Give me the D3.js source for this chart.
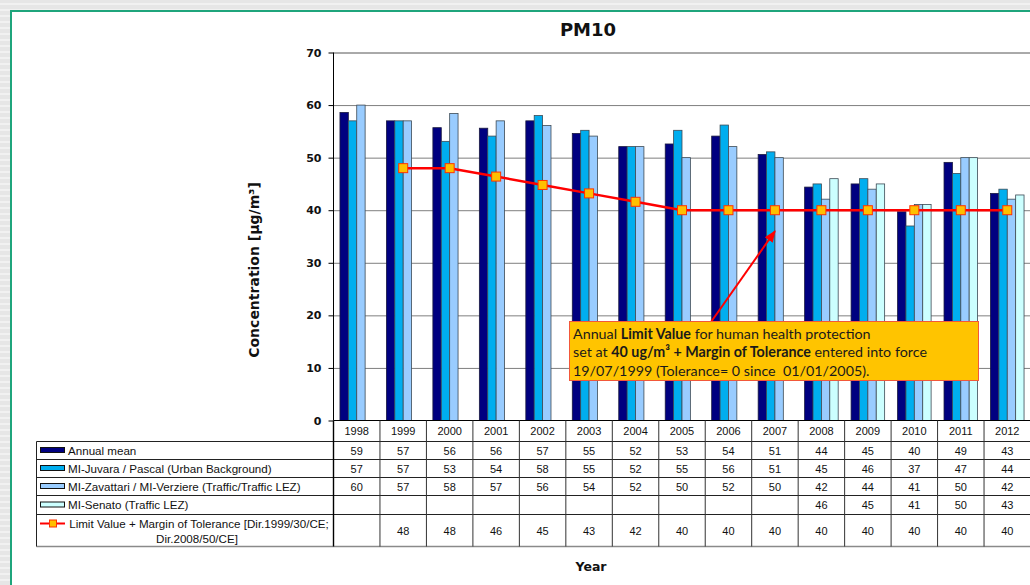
<!DOCTYPE html>
<html>
<head>
<meta charset="utf-8">
<script src="https://cdn.jsdelivr.net/npm/d3@7"></script>
<style>
  html, body { margin: 0; padding: 0; background: #ececec; }
  svg { display: block; }
</style>
</head>
<body>
<svg id="chart" width="1030" height="585"></svg>
<script>
// PM10 annual concentrations, Milan monitoring stations
const years = [1998, 1999, 2000, 2001, 2002, 2003, 2004, 2005, 2006, 2007, 2008, 2009, 2010, 2011, 2012];

const annualMean = [58.6, 57, 55.7, 55.6, 57, 54.6, 52.1, 52.6, 54.1, 50.6, 44.4, 45, 39.7, 49.1, 43.2];
const juvaraPascal = [57, 57, 53.1, 54.1, 58, 55.2, 52.1, 55.2, 56.2, 51.1, 45, 46, 37, 47, 44];
const zavattariVerziere = [60, 57, 58.4, 57, 56.1, 54.1, 52.1, 50, 52.1, 50, 42.1, 44, 41.1, 50, 42.1];
const senato = [null, null, null, null, null, null, null, null, null, null, 46, 45, 41.1, 50, 42.9];
const limitValue = [null, 48, 48, 46.4, 44.8, 43.2, 41.6, 40, 40, 40, 40, 40, 40, 40, 40];

const seriesNames = [
  "Annual mean",
  "MI-Juvara / Pascal (Urban Background)",
  "MI-Zavattari / MI-Verziere (Traffic/Traffic LEZ)",
  "MI-Senato (Traffic LEZ)"
];
const limitName = ["Limit Value + Margin of Tolerance [Dir.1999/30/CE;", "Dir.2008/50/CE]"];
const seriesColors = ["#000080", "#00AEEF", "#99CCFF", "#CCFFFF"];
const yTicks = [0, 10, 20, 30, 40, 50, 60, 70];

const barSeries = [annualMean, juvaraPascal, zavattariVerziere, senato];
const seriesKeys = d3.range(barSeries.length);

const svg = d3.select("#chart");
const W = 1030, H = 585;
const fmt = d3.format(".0f");

// --- page background and frame ---
const defs = svg.append("defs");
const pat = defs.append("pattern").attr("id", "stripes")
  .attr("width", 8).attr("height", 6).attr("patternUnits", "userSpaceOnUse");
pat.append("rect").attr("width", 8).attr("height", 6).attr("fill", "#e6e6e6");
pat.append("rect").attr("y", 3).attr("width", 8).attr("height", 2).attr("fill", "#f1f1f1");

svg.append("rect").attr("width", W).attr("height", H).attr("fill", "url(#stripes)");
svg.append("rect").attr("x", 11).attr("y", 11).attr("width", W).attr("height", H)
  .attr("fill", "#ffffff").attr("stroke", "#1fa57c").attr("stroke-width", 2);

// --- scales ---
const plotLeft = 333.5, plotRight = 1030.5, plotTop = 52.5, plotBottom = 420.5;
const x0 = d3.scaleBand().domain(years).range([plotLeft, plotRight]);
const x1 = d3.scaleBand().domain(seriesKeys).range([0, x0.bandwidth()]).paddingOuter(0.77);
const y = d3.scaleLinear().domain([0, 70]).range([plotBottom, plotTop]);

// --- title ---
svg.append("text")
  .attr("x", 588).attr("y", 36)
  .attr("text-anchor", "middle")
  .style("font", "bold 18px 'DejaVu Sans', Verdana, sans-serif")
  .attr("fill", "#111")
  .text("PM10");

// --- gridlines ---
const grid = svg.append("g").attr("transform", `translate(${plotLeft},0)`)
  .call(d3.axisLeft(y).tickValues(yTicks.filter(t => t > 0)).tickSize(-(plotRight - plotLeft)).tickFormat(""));
grid.select(".domain").remove();
grid.selectAll(".tick line").attr("stroke", "#7f7f7f").attr("stroke-width", 1);
grid.selectAll(".tick").filter(d => d === 70).select("line").attr("stroke", "#555");

// --- y axis ---
const yAxis = svg.append("g").attr("transform", `translate(${plotLeft},0)`)
  .call(d3.axisLeft(y).tickValues(yTicks).tickSize(5).tickPadding(7));
yAxis.select(".domain").attr("stroke", "#000").attr("d", `M0,${plotTop}V${plotBottom}`);
yAxis.selectAll(".tick line").attr("stroke", "#000");
yAxis.selectAll(".tick text")
  .style("font", "bold 11px 'DejaVu Sans', Verdana, sans-serif")
  .attr("fill", "#111");

svg.append("text")
  .attr("transform", `translate(259,270) rotate(-90)`)
  .attr("text-anchor", "middle")
  .style("font", "bold 14px 'DejaVu Sans', Verdana, sans-serif")
  .attr("fill", "#111")
  .text("Concentration [µg/m³]");

// --- bars ---
const groups = svg.append("g").selectAll("g.year")
  .data(years).join("g")
  .attr("transform", d => `translate(${x0(d)},0)`);

groups.selectAll("rect")
  .data((yr, i) => seriesKeys.map(k => ({ k, v: barSeries[k][i] })).filter(d => d.v != null))
  .join("rect")
  .attr("x", d => x1(d.k))
  .attr("width", x1.bandwidth())
  .attr("y", d => y(d.v))
  .attr("height", d => y(0) - y(d.v))
  .attr("fill", d => seriesColors[d.k])
  .attr("stroke", d => d.k === 0 ? "#1a1a40" : "#3c4a55")
  .attr("stroke-width", 0.8);

// --- limit value line ---
const limitPts = years.map((yr, i) => ({ yr, v: limitValue[i] })).filter(d => d.v != null);
const line = d3.line().x(d => x0(d.yr) + x0.bandwidth() / 2).y(d => y(d.v));
svg.append("path").datum(limitPts)
  .attr("d", line).attr("fill", "none")
  .attr("stroke", "#ff0000").attr("stroke-width", 2.5);
svg.append("g").selectAll("rect")
  .data(limitPts).join("rect")
  .attr("x", d => x0(d.yr) + x0.bandwidth() / 2 - 4.5)
  .attr("y", d => y(d.v) - 4.5)
  .attr("width", 9).attr("height", 9)
  .attr("fill", "#FFC000").attr("stroke", "#ff3300").attr("stroke-width", 1);

// --- data table ---
const tableLeft = 36.5;
const rowEdges = [420.5, 441.5, 459.5, 477.5, 495.5, 514.5, 546.5];
const table = svg.append("g");
const tableFont = "11px 'Liberation Sans', Arial, sans-serif";
const legendFont = "11.6px 'Liberation Sans', Arial, sans-serif";

// horizontal rules
rowEdges.slice(1).forEach((ry, i) => {
  table.append("line")
    .attr("x1", tableLeft).attr("x2", plotRight)
    .attr("y1", ry).attr("y2", ry)
    .attr("stroke", i === rowEdges.length - 2 ? "#8a8a8a" : "#222")
    .attr("stroke-width", i === rowEdges.length - 2 ? 1.6 : 1);
});
// x axis baseline
table.append("line").attr("x1", plotLeft).attr("x2", plotRight)
  .attr("y1", plotBottom).attr("y2", plotBottom).attr("stroke", "#000");
// vertical rules
table.append("line").attr("x1", tableLeft).attr("x2", tableLeft)
  .attr("y1", rowEdges[1]).attr("y2", rowEdges[6]).attr("stroke", "#222");
years.forEach(yr => {
  table.append("line")
    .attr("x1", x0(yr)).attr("x2", x0(yr))
    .attr("y1", plotBottom).attr("y2", rowEdges[6])
    .attr("stroke", yr === years[0] ? "#000" : "#333").attr("stroke-width", yr === years[0] ? 1.4 : 1);
});

// year headers
table.selectAll("text.year").data(years).join("text")
  .attr("class", "year")
  .attr("x", d => x0(d) + x0.bandwidth() / 2)
  .attr("y", (rowEdges[0] + rowEdges[1]) / 2 + 4)
  .attr("text-anchor", "middle")
  .style("font", tableFont).attr("fill", "#111")
  .text(d => d);

// value cells
const tableRows = [annualMean, juvaraPascal, zavattariVerziere, senato, limitValue];
tableRows.forEach((vals, r) => {
  const cy = (rowEdges[r + 1] + rowEdges[r + 2]) / 2;
  table.append("g").selectAll("text")
    .data(years.map((yr, i) => ({ yr, v: vals[i] })).filter(d => d.v != null))
    .join("text")
    .attr("x", d => x0(d.yr) + x0.bandwidth() / 2)
    .attr("y", cy + 4)
    .attr("text-anchor", "middle")
    .style("font", tableFont).attr("fill", "#111")
    .text(d => fmt(d.v));
});

// legend keys and names
seriesNames.forEach((name, r) => {
  const cy = (rowEdges[r + 1] + rowEdges[r + 2]) / 2;
  table.append("rect")
    .attr("x", 40.5).attr("y", cy - 3).attr("width", 24).attr("height", 5)
    .attr("fill", seriesColors[r]).attr("stroke", "#111").attr("stroke-width", 1);
  table.append("text")
    .attr("x", 68).attr("y", cy + 4)
    .style("font", legendFont).attr("fill", "#111")
    .text(name);
});
{
  const cy = rowEdges[5] + 9;
  table.append("line").attr("x1", 40).attr("x2", 65).attr("y1", cy).attr("y2", cy)
    .attr("stroke", "#ff0000").attr("stroke-width", 2);
  table.append("rect").attr("x", 49.5).attr("y", cy - 3.5).attr("width", 7).attr("height", 7)
    .attr("fill", "#FFC000").attr("stroke", "#ff3300");
  const t = table.append("text")
    .attr("text-anchor", "middle")
    .style("font", legendFont).attr("fill", "#111");
  t.append("tspan").attr("x", 199).attr("y", cy + 4).text(limitName[0]);
  t.append("tspan").attr("x", 197).attr("y", cy + 19).text(limitName[1]);
}

// x axis title
svg.append("text")
  .attr("x", 591).attr("y", 571)
  .attr("text-anchor", "middle")
  .style("font", "bold 12.5px 'DejaVu Sans', Verdana, sans-serif")
  .attr("fill", "#111")
  .text("Year");

// --- annotation ---
defs.append("marker").attr("id", "arrow")
  .attr("viewBox", "0 0 10 10").attr("refX", 9).attr("refY", 5)
  .attr("markerWidth", 6).attr("markerHeight", 6)
  .attr("orient", "auto-start-reverse")
  .append("path").attr("d", "M0,1 L10,5 L0,9 z").attr("fill", "#ff0000");

const tip = { x: x0(2007) + x1(2), y: y(36) };
svg.append("line")
  .attr("x1", 711).attr("y1", 322)
  .attr("x2", tip.x).attr("y2", tip.y)
  .attr("stroke", "#ff0000").attr("stroke-width", 2)
  .attr("marker-end", "url(#arrow)");

const box = svg.append("g");
box.append("rect")
  .attr("x", 569.5).attr("y", 321.5).attr("width", 409).attr("height", 59)
  .attr("fill", "#FFC400").attr("stroke", "#f2583a").attr("stroke-width", 1);
const note = box.append("text")
  .attr("xml:space", "preserve")
  .style("font", "14.3px Lato, 'Open Sans', sans-serif").attr("fill", "#1a1a1a");
const noteLines = [
  [["Annual ", false], ["Limit Value", true], [" for human health protection", false]],
  [["set at ", false], ["40 ug/m³ + Margin of Tolerance", true], [" entered into force", false]],
  [["19/07/1999 (Tolerance= 0 since  01/01/2005).", false]]
];
noteLines.forEach((parts, i) => {
  parts.forEach((p, j) => {
    const ts = note.append("tspan").text(p[0]).style("font-weight", p[1] ? "bold" : "normal");
    if (j === 0) ts.attr("x", 573).attr("y", 339 + i * 18.4);
  });
});
</script>
</body>
</html>
